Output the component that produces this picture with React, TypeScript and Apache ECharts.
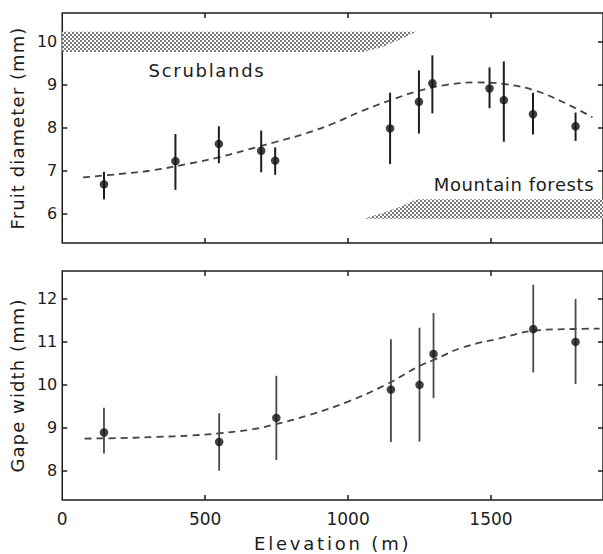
import React, { useEffect, useRef } from "react";
import * as echarts from "echarts";

// ---- data ----
const xTickLabels = [0, 500, 1000, 1500];
const xTicks = [500, 1000, 1500];
const fruitTicks = [6, 7, 8, 9, 10];
const gapeTicks = [8, 9, 10, 11, 12];

const fruitElev = [146, 396, 548, 696, 745, 1147, 1248, 1295, 1495, 1545, 1647, 1796];
const fruitMean = [6.68, 7.22, 7.62, 7.46, 7.23, 7.98, 8.6, 9.03, 8.91, 8.64, 8.31, 8.03];
const fruitLow = [6.33, 6.55, 7.17, 6.96, 6.9, 7.15, 7.86, 8.33, 8.45, 7.67, 7.84, 7.69];
const fruitHigh = [6.97, 7.85, 8.03, 7.93, 7.54, 8.81, 9.33, 9.68, 9.4, 9.54, 8.81, 8.35];

const gapeElev = [146, 549, 749, 1150, 1250, 1299, 1648, 1796];
const gapeMean = [8.89, 8.67, 9.23, 9.89, 10.0, 10.72, 11.3, 11.0];
const gapeLow = [8.4, 8.0, 8.25, 8.67, 8.68, 9.69, 10.29, 10.02];
const gapeHigh = [9.47, 9.34, 10.21, 11.06, 11.33, 11.67, 12.33, 12.0];

const fruitCurveX = [73, 200, 320, 450, 550, 650, 750, 850, 950, 1050, 1150, 1250, 1350, 1450, 1550, 1650, 1750, 1855];
const fruitCurveY = [6.84, 6.92, 7.01, 7.17, 7.31, 7.49, 7.67, 7.86, 8.1, 8.39, 8.64, 8.86, 9.0, 9.05, 9.01, 8.87, 8.6, 8.24];

const gapeCurveX = [78, 200, 333, 450, 546, 650, 732, 865, 1000, 1131, 1250, 1300, 1400, 1530, 1650, 1790, 1880];
const gapeCurveY = [8.75, 8.76, 8.79, 8.82, 8.87, 8.95, 9.06, 9.3, 9.61, 10.0, 10.44, 10.58, 10.87, 11.08, 11.26, 11.3, 11.31];

const scrublandBand = [[0, 10.23], [1240, 10.23], [1191, 10.08], [1122, 9.88], [1053, 9.76], [0, 9.76]];
const forestBand = [[1053, 5.88], [1122, 6.01], [1181, 6.15], [1240, 6.33], [1950, 6.33], [1950, 5.88]];

const X_MAX = 1892;
const FONT = "DejaVu Sans";
const INK = "#1c1c1c";

const letterSpacing: Record<string, number> = {
  "Elevation (m)": 2.8,
  "Fruit diameter (mm)": 1.1,
  "Gape width (mm)": 1.1,
  Scrublands: 1.7,
  "Mountain forests": 0.6,
};

function makePattern() {
  const c = document.createElement("canvas");
  c.width = 4;
  c.height = 4;
  const ctx = c.getContext("2d")!;
  ctx.fillStyle = "#ffffff";
  ctx.fillRect(0, 0, 4, 4);
  ctx.fillStyle = "#7a7a7a";
  ctx.fillRect(0, 0, 2, 2);
  ctx.fillRect(2, 2, 2, 2);
  return { image: c, repeat: "repeat", imageWidth: 4, imageHeight: 4 };
}

function xAxisDef(gridIndex: number, position: string, labels: boolean) {
  const a: any = {
    type: "value",
    gridIndex,
    position,
    min: 0,
    max: X_MAX,
    axisLine: { show: false, onZero: false },
    splitLine: { show: false },
    axisTick: {
      show: true,
      inside: true,
      length: 5,
      customValues: xTicks,
      lineStyle: { color: INK, width: 1.5 },
    },
    axisLabel: labels
      ? {
          show: true,
          customValues: xTickLabels,
          formatter: (v: number) => String(v),
          fontFamily: FONT,
          fontSize: 17,
          color: INK,
          margin: 10,
        }
      : { show: false },
  };
  if (labels) {
    a.name = "Elevation (m)";
    a.nameLocation = "middle";
    a.nameGap = 34;
    a.nameTextStyle = { fontFamily: FONT, fontSize: 18, color: INK };
  }
  return a;
}

function yAxisDef(gridIndex: number, position: string, min: number, max: number, ticks: number[], name?: string) {
  const a: any = {
    type: "value",
    gridIndex,
    position,
    min,
    max,
    axisLine: { show: false, onZero: false },
    splitLine: { show: false },
    axisTick: {
      show: true,
      inside: true,
      length: 5,
      customValues: ticks,
      lineStyle: { color: INK, width: 1.5 },
    },
    axisLabel: name
      ? {
          show: true,
          customValues: ticks,
          formatter: (v: number) => String(v),
          fontFamily: FONT,
          fontSize: 16,
          color: INK,
          margin: 5,
        }
      : { show: false },
  };
  if (name) {
    a.name = name;
    a.nameLocation = "middle";
    a.nameGap = 29;
    a.nameRotate = 90;
    a.nameTextStyle = { fontFamily: FONT, fontSize: 18, color: INK };
  }
  return a;
}

function bandSeries(axisIndex: number, band: number[][], fill: any) {
  return {
    type: "custom",
    xAxisIndex: axisIndex,
    yAxisIndex: axisIndex,
    silent: true,
    z: 1,
    data: [[band[0][0], band[0][1]]],
    renderItem: (_p: any, api: any) => ({
      type: "polygon",
      shape: { points: band.map((pt) => api.coord(pt)) },
      style: { fill, stroke: null },
    }),
  };
}

function errorSeries(axisIndex: number, xs: number[], lo: number[], hi: number[], color: string, width: number) {
  return {
    type: "custom",
    xAxisIndex: axisIndex,
    yAxisIndex: axisIndex,
    silent: true,
    z: 3,
    encode: { x: 0, y: [1, 2] },
    data: xs.map((x, i) => [x, lo[i], hi[i]]),
    renderItem: (_p: any, api: any) => {
      const a = api.coord([api.value(0), api.value(1)]);
      const b = api.coord([api.value(0), api.value(2)]);
      return {
        type: "line",
        shape: { x1: a[0], y1: a[1], x2: b[0], y2: b[1] },
        style: { stroke: color, lineWidth: width },
      };
    },
  };
}

function pointSeries(axisIndex: number, xs: number[], ys: number[]) {
  return {
    type: "scatter",
    xAxisIndex: axisIndex,
    yAxisIndex: axisIndex,
    symbol: "circle",
    symbolSize: 8.5,
    itemStyle: { color: "#111" },
    silent: true,
    z: 4,
    data: xs.map((x, i) => [x, ys[i]]),
  };
}

function curveSeries(axisIndex: number, xs: number[], ys: number[]) {
  return {
    type: "line",
    xAxisIndex: axisIndex,
    yAxisIndex: axisIndex,
    smooth: 0.4,
    showSymbol: false,
    silent: true,
    z: 2,
    lineStyle: { color: "#444", width: 1.8, type: [7, 5] },
    data: xs.map((x, i) => [x, ys[i]]),
  };
}

export default function App() {
  const ref = useRef<HTMLDivElement>(null);

  useEffect(() => {
    if (!ref.current) return;
    const chart = echarts.init(ref.current, undefined, { renderer: "svg" });
    const pattern = makePattern();
    const gridStyle = { show: true, borderColor: INK, borderWidth: 1.5, backgroundColor: "transparent" };

    chart.setOption({
      animation: false,
      textStyle: { fontFamily: FONT },
      grid: [
        { left: 57, top: 13, width: 548, height: 230, ...gridStyle },
        { left: 57, top: 271, width: 548, height: 229, ...gridStyle },
      ],
      xAxis: [
        xAxisDef(0, "bottom", false),
        xAxisDef(0, "top", false),
        xAxisDef(1, "bottom", true),
        xAxisDef(1, "top", false),
      ],
      yAxis: [
        yAxisDef(0, "left", 5.315, 10.665, fruitTicks, "Fruit diameter (mm)"),
        yAxisDef(0, "right", 5.315, 10.665, fruitTicks),
        yAxisDef(1, "left", 7.32, 12.65, gapeTicks, "Gape width (mm)"),
        yAxisDef(1, "right", 7.32, 12.65, gapeTicks),
      ],
      graphic: [
        {
          type: "text",
          x: 207,
          y: 70,
          silent: true,
          style: { text: "Scrublands", fill: INK, font: `18px "${FONT}"`, align: "center", verticalAlign: "middle" },
        },
        {
          type: "text",
          x: 514,
          y: 184,
          silent: true,
          style: { text: "Mountain forests", fill: INK, font: `18px "${FONT}"`, align: "center", verticalAlign: "middle" },
        },
      ],
      series: [
        bandSeries(0, scrublandBand, pattern),
        bandSeries(0, forestBand, pattern),
        curveSeries(0, fruitCurveX, fruitCurveY),
        errorSeries(0, fruitElev, fruitLow, fruitHigh, "#1e1e1e", 2),
        pointSeries(0, fruitElev, fruitMean),
        curveSeries(2, gapeCurveX, gapeCurveY),
        errorSeries(2, gapeElev, gapeLow, gapeHigh, "#4a4a4a", 1.8),
        pointSeries(2, gapeElev, gapeMean),
      ],
    });

    ref.current.querySelectorAll("text").forEach((t) => {
      const s = letterSpacing[(t.textContent || "").trim()];
      if (s != null) t.setAttribute("letter-spacing", `${s}px`);
    });

    return () => chart.dispose();
  }, []);

  return (
    <div
      ref={ref}
      style={{ position: "absolute", left: 0, top: 0, width: 603, height: 554, background: "#fff" }}
    />
  );
}
